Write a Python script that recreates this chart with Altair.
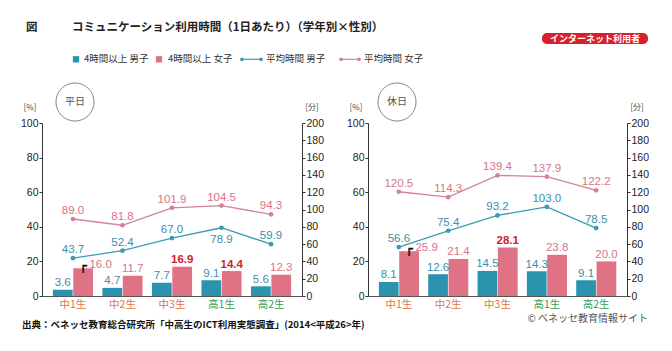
import altair as alt
import pandas as pd

# ---------------- data ----------------
categories = ['中1生', '中2生', '中3生', '高1生', '高2生']
genders = ['男子', '女子']

weekday_over4h_male = [3.6, 4.7, 7.7, 9.1, 5.6]
weekday_over4h_female = [16.0, 11.7, 16.9, 14.4, 12.3]
weekday_avg_male = [43.7, 52.4, 67.0, 78.9, 59.9]
weekday_avg_female = [89.0, 81.8, 101.9, 104.5, 94.3]

holiday_over4h_male = [8.1, 12.6, 14.5, 14.3, 9.1]
holiday_over4h_female = [25.9, 21.4, 28.1, 23.8, 20.0]
holiday_avg_male = [56.6, 75.4, 93.2, 103.0, 78.5]
holiday_avg_female = [120.5, 114.3, 139.4, 137.9, 122.2]

weekday_highlight = ['中3生', '高1生']
holiday_highlight = ['中3生']

pct_ticks = [0, 20, 40, 60, 80, 100]
min_ticks = [0, 20, 40, 60, 80, 100, 120, 140, 160, 180, 200]

# ---------------- styles ----------------
BLUE = '#2b93ae'
PINK = '#df7385'
LINE_BLUE = '#3a9bb6'
LINE_PINK = '#d3829b'
TXT_BLUE = '#3b8fa9'
TXT_PINK = '#d9738a'
RED = '#d3202c'
ORANGE = '#e4743f'
GREEN = '#32a050'
NUM_FONT = 'Liberation Sans'
JP_FONT = 'Noto Sans CJK JP'
LBL = 11.5

one = pd.DataFrame({'k': [0]})


def vtext(txt, x, y, size, color='#333333', font=JP_FONT, weight='normal',
          align='left', baseline='middle'):
    return alt.Chart(one).mark_text(
        text=txt, fontSize=size, color=color, font=font, fontWeight=weight,
        align=align, baseline=baseline
    ).encode(x=alt.value(x), y=alt.value(y))


def panel(bar_m, bar_f, avg_m, avg_f, highlight, day_label, circle_x, W, H, extras):
    bars = pd.DataFrame({
        'cat': categories * 2,
        'g': ['男子'] * 5 + ['女子'] * 5,
        'v': bar_m + bar_f,
    })
    bars['hl'] = [(g == '女子' and c in highlight) for c, g in zip(bars['cat'], bars['g'])]
    lines = pd.DataFrame({
        'cat': categories * 2,
        'g': ['男子'] * 5 + ['女子'] * 5,
        'v': avg_m + avg_f,
    })
    # male label goes under its point when the female line is too close above
    lines['below'] = [(f - m) < 27 for m, f in zip(avg_m, avg_f)] + [False] * 5

    x_enc = alt.X('cat:N', sort=categories,
                  scale=alt.Scale(paddingInner=0.19, paddingOuter=0.22),
                  axis=alt.Axis(title=None, ticks=False, domainColor='#555555', domainWidth=1.2,
                                labelFont=JP_FONT, labelFontSize=10.5, labelPadding=3, labelAngle=0,
                                labelColor={"condition": {"test": "indexof(datum.value, '高') === 0",
                                                          "value": GREEN},
                                            "value": ORANGE}))
    xo = alt.XOffset('g:N', sort=genders, scale=alt.Scale(domain=genders, paddingInner=0.03))
    y_pct = alt.Y('v:Q', scale=alt.Scale(domain=[0, 100], nice=False),
                  axis=alt.Axis(orient='left', values=pct_ticks, title=None, grid=False,
                                tickSize=3, tickColor='#333333', domainColor='#333333',
                                labelFont=NUM_FONT, labelFontSize=10.5, labelColor='#222222',
                                labelPadding=1))
    y_min = alt.Y('v:Q', scale=alt.Scale(domain=[0, 200], nice=False),
                  axis=alt.Axis(orient='right', values=min_ticks, title=None, grid=False,
                                tickSize=3, tickColor='#333333', domainColor='#333333',
                                labelFont=NUM_FONT, labelFontSize=10.5, labelColor='#222222',
                                labelPadding=1))

    base_b = alt.Chart(bars)
    bar_layer = base_b.mark_bar().encode(
        x=x_enc, xOffset=xo, y=y_pct,
        color=alt.Color('g:N', scale=alt.Scale(domain=genders, range=[BLUE, PINK]), legend=None))
    txt_kw = dict(font=NUM_FONT, fontSize=LBL, baseline='alphabetic')
    enc = dict(x=x_enc, xOffset=xo, y=y_pct, text=alt.Text('v:Q', format='.1f'))
    male_lbl = base_b.transform_filter("datum.g === '男子'").mark_text(
        color=TXT_BLUE, dy=-3.5, **txt_kw).encode(**enc)
    fem_lbl = base_b.transform_filter(
        f"datum.g === '女子' && !datum.hl && datum.cat !== '{categories[0]}'").mark_text(
        color=TXT_PINK, dy=-3.5, **txt_kw).encode(**enc)
    fem_hl = base_b.transform_filter("datum.hl").mark_text(
        color=RED, dy=-3.5, fontWeight='bold', **txt_kw).encode(**enc)
    fem_first = base_b.transform_filter(
        f"datum.g === '女子' && datum.cat === '{categories[0]}'").mark_text(
        color=TXT_PINK, dy=0, dx=17.5, **txt_kw).encode(**enc)
    bracket = base_b.transform_filter(
        f"datum.g === '女子' && datum.cat === '{categories[0]}'").mark_text(
        text='┌', font='DejaVu Sans', fontSize=12, color='#111111', stroke='#111111',
        strokeWidth=0.6, align='left', baseline='alphabetic', dx=-3.6, dy=2
    ).encode(x=x_enc, xOffset=xo, y=y_pct)
    pct_layer = alt.layer(bar_layer, male_lbl, fem_lbl, fem_hl, fem_first, bracket)

    base_l = alt.Chart(lines)
    lcolor = alt.Color('g:N', scale=alt.Scale(domain=genders, range=[LINE_BLUE, LINE_PINK]), legend=None)
    line = base_l.mark_line(strokeWidth=1.3).encode(x=x_enc, y=y_min, color=lcolor, detail='g:N')
    pts = base_l.mark_circle(size=22, opacity=1).encode(x=x_enc, y=y_min, color=lcolor)
    lenc = dict(x=x_enc, y=y_min, text=alt.Text('v:Q', format='.1f'))
    m_above = base_l.transform_filter("datum.g === '男子' && !datum.below").mark_text(
        color=TXT_BLUE, dy=-5, **txt_kw).encode(**lenc)
    m_below = base_l.transform_filter("datum.g === '男子' && datum.below").mark_text(
        color=TXT_BLUE, dy=6, font=NUM_FONT, fontSize=LBL, baseline='top').encode(**lenc)
    f_above = base_l.transform_filter("datum.g === '女子'").mark_text(
        color=TXT_PINK, dy=-5, **txt_kw).encode(**lenc)
    min_layer = alt.layer(line, pts, m_above, m_below, f_above)

    circle = alt.Chart(one).mark_point(shape='circle', filled=False, size=1450,
                                       color='#666666', strokeWidth=0.8, opacity=1).encode(
        x=alt.value(circle_x), y=alt.value(-21))
    day_txt = vtext(day_label, circle_x, -21, 10, color='#555555', align='center')
    unit_l = vtext('[%]', -12, -14.7, 8, color='#444444', align='center')
    unit_r = vtext('[分]', W + 10, -14.7, 8, color='#444444', align='center')

    layers = list(extras) + [pct_layer, min_layer, circle, day_txt, unit_l, unit_r]
    return alt.layer(*layers).resolve_scale(y='independent', color='independent').properties(
        width=W, height=H)


H = 173
LW, RW = 260, 259
LEG_Y = -63.7

anchor = alt.Chart(one).mark_rect(color='white').encode(
    x=alt.value(-42), x2=alt.value(-41), y=alt.value(-122.7), y2=alt.value(-121.7))

legend_layers = [
    alt.Chart(one).mark_square(size=40, color=BLUE, opacity=1).encode(x=alt.value(34), y=alt.value(LEG_Y)),
    vtext('4時間以上 男子', 42, LEG_Y, 9.5),
    alt.Chart(one).mark_square(size=40, color=PINK, opacity=1).encode(x=alt.value(117), y=alt.value(LEG_Y)),
    vtext('4時間以上 女子', 126, LEG_Y, 9.5),
    alt.Chart(one).mark_rule(color=LINE_BLUE, strokeWidth=1.2).encode(
        x=alt.value(199), x2=alt.value(220), y=alt.value(LEG_Y)),
    alt.Chart(one).mark_circle(size=14, color=LINE_BLUE, opacity=1).encode(x=alt.value(200), y=alt.value(LEG_Y)),
    alt.Chart(one).mark_circle(size=14, color=LINE_BLUE, opacity=1).encode(x=alt.value(219), y=alt.value(LEG_Y)),
    vtext('平均時間 男子', 224, LEG_Y, 9.5),
    alt.Chart(one).mark_rule(color=LINE_PINK, strokeWidth=1.2).encode(
        x=alt.value(298), x2=alt.value(318), y=alt.value(LEG_Y)),
    alt.Chart(one).mark_circle(size=14, color=LINE_PINK, opacity=1).encode(x=alt.value(299), y=alt.value(LEG_Y)),
    alt.Chart(one).mark_circle(size=14, color=LINE_PINK, opacity=1).encode(x=alt.value(317), y=alt.value(LEG_Y)),
    vtext('平均時間 女子', 322, LEG_Y, 9.5),
]

left_extras = [
    anchor,
    vtext('図', -16, -94.7, 11.5, color='#222222', weight='bold'),
    vtext('コミュニケーション利用時間（1日あたり）（学年別×性別）', 30, -94.7, 11.5,
          color='#222222', weight='bold'),
    vtext('出典：ベネッセ教育総合研究所「中高生のICT利用実態調査」(2014<平成26>年)', -20, 202.3, 9.5,
          color='#111111', weight='bold'),
] + legend_layers

right_extras = [
    alt.Chart(one).mark_rect(color='#d81f2a', cornerRadius=5).encode(
        x=alt.value(174), x2=alt.value(280), y=alt.value(-90), y2=alt.value(-79)),
    vtext('インターネット利用者', 227, -84.5, 9, color='white', weight='bold', align='center'),
    vtext('© ベネッセ教育情報サイト', 280, 196.3, 10, color='#555555', align='right'),
]

left = panel(weekday_over4h_male, weekday_over4h_female, weekday_avg_male, weekday_avg_female,
             weekday_highlight, '平日', 33, LW, H, left_extras)
right = panel(holiday_over4h_male, holiday_over4h_female, holiday_avg_male, holiday_avg_female,
              holiday_highlight, '休日', 29, RW, H, right_extras)

chart = alt.hconcat(left, right, spacing=66, bounds='flush').properties(
    padding=0, background='white'
).configure_view(strokeWidth=0)

chart.save("out.html", embed_options={"renderer": "svg", "actions": False})
